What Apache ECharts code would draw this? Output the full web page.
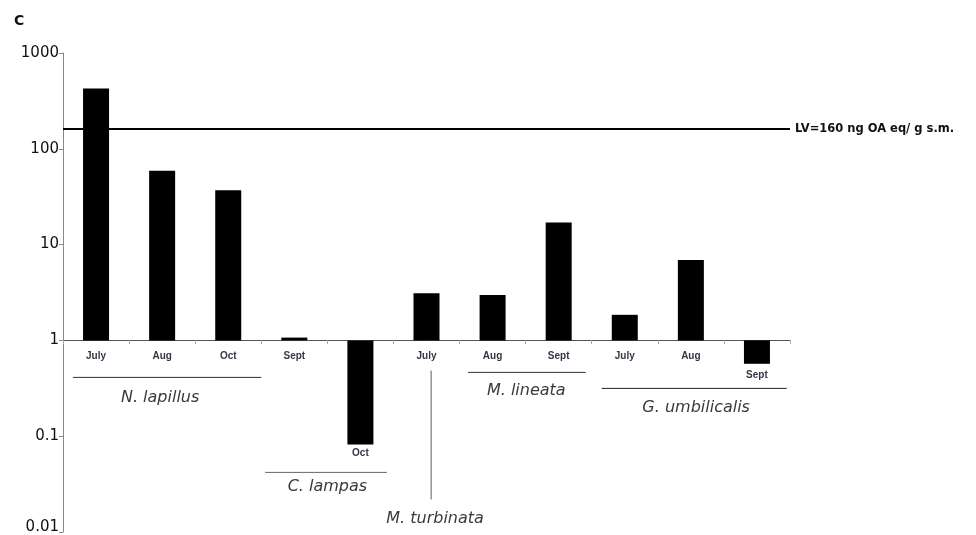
<!DOCTYPE html>
<html>
<head>
<meta charset="utf-8">
<title>Toxin levels by species and month</title>
<script src="https://cdn.jsdelivr.net/npm/echarts@6/dist/echarts.min.js"></script>
<style>
  html, body { margin: 0; padding: 0; background: #fff; }
  #chart { width: 976px; height: 535px; }
</style>
</head>
<body>
<div id="chart"></div>
<script>
// Sampling months (one bar each), grouped by species below the axis
const months = ['July', 'Aug', 'Oct', 'Sept', 'Oct', 'July', 'Aug', 'Sept', 'July', 'Aug', 'Sept'];
// Toxin concentration (ng OA eq / g s.m.), log scale, bars grow from 1
const concentrations = [425, 59, 37, 1.07, 0.082, 3.1, 2.98, 17, 1.85, 6.9, 0.57];
// Regulatory limit value
const limitValue = 160;
const limitLabel = 'LV=160 ng OA eq/ g s.m.';
// Log-axis tick labels
const yTickLabels = { 0.01: '0.01', 0.1: '0.1', 1: '1', 10: '10', 100: '100', 1000: '1000' };
// Species groups: first and last category index of each group
const speciesNames = ['N. lapillus', 'C. lampas', 'M. turbinata', 'M. lineata', 'G. umbilicalis'];
const speciesFirst = [0, 3, 5, 6, 8];
const speciesLast  = [2, 4, 5, 7, 10];

// Extra downward shift for month labels that sit under a bar hanging below 1
const labelDrop = { 4: 97, 10: 19 };

const chart = echarts.init(document.getElementById('chart'), null, { renderer: 'canvas' });

const monthFont = { fontFamily: 'Liberation Sans', fontWeight: 'bold', fontSize: 10, color: '#3a3344' };
const yFont = { fontFamily: 'DejaVu Sans', fontSize: 15, color: '#111' };

const option = {
  animation: false,
  backgroundColor: '#ffffff',
  title: {
    text: 'C',
    left: 9, top: 9,
    textStyle: { fontFamily: 'DejaVu Sans', fontWeight: 'bold', fontSize: 14, color: '#111' }
  },
  grid: { left: 63, right: 186, top: 53, bottom: 3, containLabel: false, outerBoundsMode: 'none' },
  xAxis: {
    type: 'category',
    data: months,
    position: 'bottom',
    offset: -192,
    axisLine: { lineStyle: { color: '#555', width: 1 } },
    axisTick: { show: true, length: 4, inside: false, lineStyle: { color: '#aaa' } },
    axisLabel: Object.assign({
      margin: 11,
      interval: 0,
      formatter: function (v, i) {
        return labelDrop[i] ? '{d' + i + '|' + v + '}' : v;
      },
      rich: {
        d4: Object.assign({ padding: [labelDrop[4], 0, 0, 0] }, monthFont),
        d10: Object.assign({ padding: [labelDrop[10], 0, 0, 0] }, monthFont)
      }
    }, monthFont),
    splitLine: { show: false }
  },
  yAxis: {
    type: 'log',
    logBase: 10,
    min: 0.01,
    max: 1000,
    axisLine: { show: true, lineStyle: { color: '#888', width: 1 } },
    axisTick: { show: true, length: 4, lineStyle: { color: '#888' } },
    axisLabel: Object.assign({
      margin: 4,
      formatter: function (v) {
        const key = Number(v.toPrecision(3));
        const txt = yTickLabels[key] !== undefined ? yTickLabels[key] : '';
        // lowest label sits a little above its tick
        return key === 0.01 ? '{low|' + txt + '}' : txt;
      },
      rich: { low: Object.assign({ padding: [0, 0, 9, 0] }, yFont) }
    }, yFont),
    splitLine: { show: false }
  },
  series: [{
    type: 'bar',
    data: concentrations,
    barWidth: 26,
    itemStyle: { color: '#000' },
    markLine: {
      silent: true,
      symbol: ['none', 'none'],
      lineStyle: { color: '#000', width: 2, type: 'solid' },
      label: {
        show: true,
        position: 'end',
        distance: 5,
        formatter: limitLabel,
        fontFamily: 'DejaVu Sans',
        fontWeight: 'bold',
        fontSize: 11.5,
        color: '#111'
      },
      data: [{ yAxis: limitValue }]
    }
  }]
};

chart.setOption(option);

// Species brackets and names, placed from the category positions
function speciesGraphics() {
  const x0 = chart.convertToPixel({ xAxisIndex: 0 }, 0);
  const x1 = chart.convertToPixel({ xAxisIndex: 0 }, 1);
  const bw = x1 - x0;
  const base = chart.convertToPixel({ yAxisIndex: 0 }, 1);
  const cx = i => x0 + bw * i;
  const els = [];
  const name = (t, x, y) => ({
    type: 'text', x: x, y: y,
    style: {
      text: t, fill: '#3a3a3a', align: 'center', verticalAlign: 'middle',
      font: 'italic 16px "DejaVu Sans"'
    }
  });
  const hline = (a, b, y, c) => ({
    type: 'line', shape: { x1: cx(a), y1: base + y, x2: cx(b), y2: base + y },
    style: { stroke: c, lineWidth: 1 }
  });

  // N. lapillus
  els.push(hline(speciesFirst[0] - 0.35, speciesLast[0] + 0.5, 37, '#333'));
  els.push(name(speciesNames[0], cx(0.97), base + 57));
  // C. lampas
  els.push(hline(speciesFirst[1] - 0.44, speciesLast[1] + 0.4, 132, '#666'));
  els.push(name(speciesNames[1], cx(3.5), base + 146));
  // M. turbinata (vertical leader)
  els.push({
    type: 'line', shape: { x1: cx(5.07), y1: base + 30, x2: cx(5.07), y2: base + 159 },
    style: { stroke: '#777', lineWidth: 1.2 }
  });
  els.push(name(speciesNames[2], cx(5.13), base + 178));
  // M. lineata
  els.push(hline(speciesFirst[3] - 0.37, speciesLast[3] + 0.41, 32, '#333'));
  els.push(name(speciesNames[3], cx(6.51), base + 50));
  // G. umbilicalis
  els.push(hline(speciesFirst[4] - 0.35, speciesLast[4] + 0.45, 48, '#222'));
  els.push(name(speciesNames[4], cx(9.08), base + 67));
  return els;
}

chart.setOption({ graphic: { elements: speciesGraphics() } });
</script>
</body>
</html>
